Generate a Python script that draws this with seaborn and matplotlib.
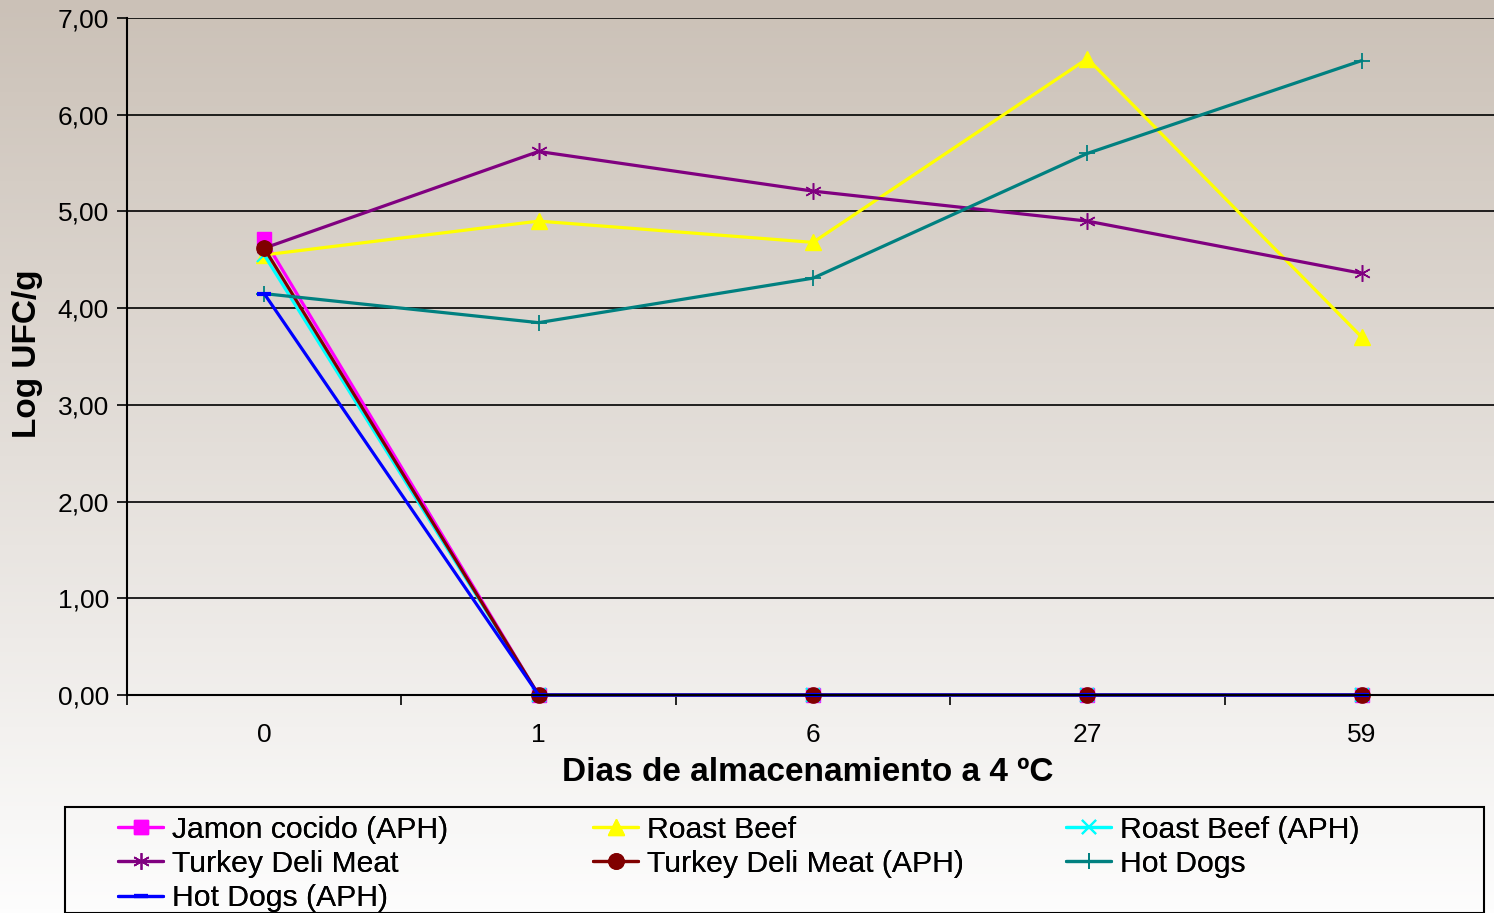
import numpy as np
import pandas as pd
import matplotlib
matplotlib.use("Agg")
import matplotlib.pyplot as plt
import seaborn as sns
from matplotlib.lines import Line2D
from matplotlib.patches import Rectangle

sns.set_theme(style="white")
plt.rcParams['font.family'] = ['Liberation Sans', 'DejaVu Sans']
plt.rcParams['text.color'] = 'black'
plt.rcParams['axes.labelcolor'] = 'black'
plt.rcParams['xtick.color'] = 'black'
plt.rcParams['ytick.color'] = 'black'

# ---- data ----
days = ["0", "1", "6", "27", "59"]
jamon_aph = [4.71, 0.0, 0.0, 0.0, 0.0]
roast_beef = [4.55, 4.90, 4.68, 6.58, 3.70]
roast_beef_aph = [4.55, 0.0, 0.0, 0.0, 0.0]
turkey = [4.62, 5.62, 5.21, 4.90, 4.36]
turkey_aph = [4.62, 0.0, 0.0, 0.0, 0.0]
hot_dogs = [4.15, 3.85, 4.31, 5.60, 6.56]
hot_dogs_aph = [4.15, 0.0, 0.0, 0.0, 0.0]

series_names = ["Jamon cocido (APH)", "Roast Beef", "Roast Beef (APH)",
                "Turkey Deli Meat", "Turkey Deli Meat (APH)", "Hot Dogs",
                "Hot Dogs (APH)"]
series_vals = [jamon_aph, roast_beef, roast_beef_aph, turkey, turkey_aph,
               hot_dogs, hot_dogs_aph]

styles = {
    "Jamon cocido (APH)": dict(color="#FF00FF", marker="s", ms=10, mew=1),
    "Roast Beef": dict(color="#FFFF00", marker="^", ms=12, mew=1),
    "Roast Beef (APH)": dict(color="#00FFFF", marker="x", ms=10, mew=1.5),
    "Turkey Deli Meat": dict(color="#800080", marker=(6, 2, 0), ms=12, mew=1.1),
    "Turkey Deli Meat (APH)": dict(color="#800000", marker="o", ms=11, mew=1),
    "Hot Dogs": dict(color="#008080", marker="+", ms=12, mew=1.3),
    "Hot Dogs (APH)": dict(color="#0000FF", marker="_", ms=10, mew=3),
}

rows = []
for name, vals in zip(series_names, series_vals):
    for i, v in enumerate(vals):
        rows.append(dict(series=name, pos=i, val=v))
df = pd.DataFrame(rows)

W, H = 1494, 913
fig = plt.figure(figsize=(W / 100, H / 100), dpi=100)

# gradient background
bg = fig.add_axes([0, 0, 1, 1], zorder=-5)
top = np.array([203, 193, 183]) / 255
bot = np.array([253, 253, 253]) / 255
t = np.linspace(0, 1, 256)[:, None]
grad = top[None, :] * (1 - t) + bot[None, :] * t
bg.imshow(grad[:, None, :], aspect="auto", extent=[0, 1, 0, 1])
bg.axis("off")

ax = fig.add_axes([127 / W, 1 - 695 / H, (1499 - 127) / W, (695 - 18) / H], zorder=1)
ax.set_facecolor("none")

for name in series_names:
    st = styles[name]
    sub = df[df.series == name]
    sns.lineplot(data=sub, x="pos", y="val", ax=ax, color=st["color"],
                 marker=st["marker"], markersize=st["ms"],
                 markeredgewidth=st["mew"], markeredgecolor=st["color"],
                 markerfacecolor=st["color"], linewidth=2.3, legend=False,
                 clip_on=False)

ax.set_xlim(-0.5, 4.5)
ax.set_ylim(0, 7)
ax.set_yticks(range(0, 8))
ax.set_yticklabels([f"{v},00" for v in range(0, 8)], fontsize=19)
ax.set_xticks(np.arange(-0.5, 4.6, 1.0))
ax.set_xticklabels([])
ax.set_xticks(range(5), minor=True)
ax.set_xticklabels(days, minor=True, fontsize=19)
ax.tick_params(axis="x", which="major", direction="out", length=7, width=1.2,
               color="black", bottom=True)
ax.tick_params(axis="x", which="minor", length=0, pad=20)
ax.tick_params(axis="y", direction="out", length=7, width=1.2, color="black",
               left=True, pad=6)
ax.grid(axis="y", color="black", linewidth=1.2)
ax.grid(axis="x", visible=False)
for s in ["top", "right"]:
    ax.spines[s].set_visible(False)
for s in ["left", "bottom"]:
    ax.spines[s].set_color("black")
    ax.spines[s].set_linewidth(1.5)

ax.set_xlabel("Dias de almacenamiento a 4 ºC", fontsize=24, fontweight="bold")
ax.set_ylabel("Log UFC/g", fontsize=24, fontweight="bold")
ax.xaxis.set_label_coords((808 - 127) / (1499 - 127), -(757 - 695) / (695 - 18))
ax.yaxis.set_label_coords(-(127 - 43) / (1499 - 127), (695 - 354) / (695 - 18))

# legend box
fig.patches.append(Rectangle((65 / W, 0), (1484 - 65) / W, 1 - 807 / H,
                             transform=fig.transFigure, facecolor="none",
                             edgecolor="black", linewidth=1.5))

def handle(name):
    st = styles[name]
    return Line2D([], [], color=st["color"], marker=st["marker"],
                  markersize=st["ms"], markeredgewidth=st["mew"],
                  markerfacecolor=st["color"], markeredgecolor=st["color"],
                  linewidth=2.3)

cols = [(["Jamon cocido (APH)", "Turkey Deli Meat", "Hot Dogs (APH)"], 118),
        (["Roast Beef", "Turkey Deli Meat (APH)"], 593),
        (["Roast Beef (APH)", "Hot Dogs"], 1066)]
for names, x0 in cols:
    leg = fig.legend([handle(n) for n in names], names, loc="upper left",
                     bbox_to_anchor=(x0 / W, 1 - 816 / H), frameon=False,
                     fontsize=21.7, borderpad=0, borderaxespad=0,
                     labelspacing=0.2, handlelength=1.5, handletextpad=0.3)
    fig.add_artist(leg)

fig.savefig("out.png", dpi=100)
